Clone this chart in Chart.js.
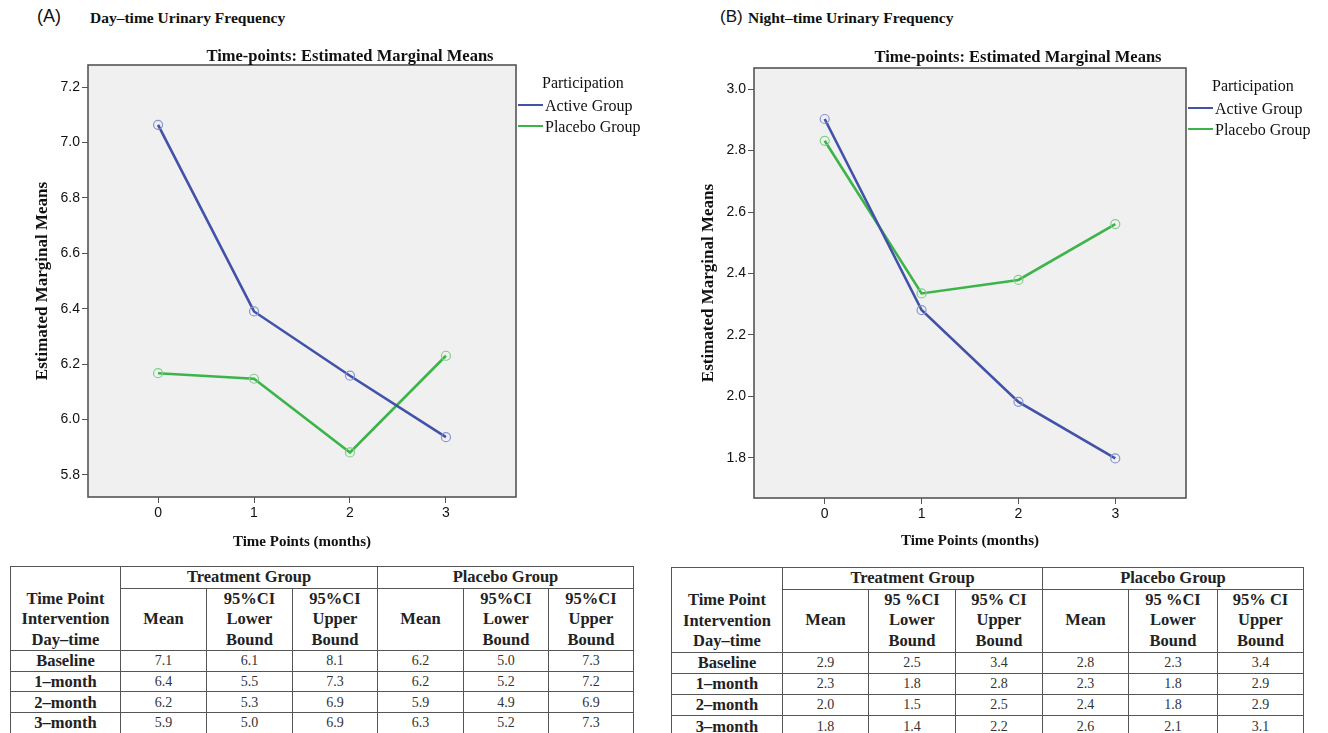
<!DOCTYPE html>
<html>
<head>
<meta charset="utf-8">
<script src="https://cdn.jsdelivr.net/npm/chart.js@4.4.0/dist/chart.umd.min.js"></script>
<style>
  body { margin: 0; background: #fff; width: 1328px; height: 733px; overflow: hidden; position: relative; font-family: "Liberation Serif", serif; }
  .panel { position: absolute; top: 0; width: 664px; height: 560px; }
  .heading { position: absolute; top: 6px; white-space: nowrap; color: #111; font-family: "Liberation Sans", sans-serif; font-size: 18px; }
  .name { position: absolute; top: 9px; white-space: nowrap; color: #111; font-weight: bold; font-size: 15.5px; }
  table { position: absolute; border-collapse: collapse; table-layout: fixed; color: #222; }
  td, th { border: 1.6px solid #555; padding: 0; text-align: center; vertical-align: middle; }
  th { font-weight: bold; font-size: 16.5px; line-height: 20.5px; }
  td { font-size: 14px; color: #333; height: 19px; line-height: 19px; }
  td.row { font-weight: bold; font-size: 16.5px; color: #222; }
  th.corner { vertical-align: bottom; }
</style>
</head>
<body>
<div class="heading" style="left:37px">(A)</div>
<div class="name" style="left:90px">Day–time Urinary Frequency</div>
<div class="heading" style="left:720px; font-size:17px; top:7px">(B)</div>
<div class="name" style="left:748px">Night–time Urinary Frequency</div>

<div class="panel" style="left:0"><canvas id="dayChart" width="664" height="560"></canvas></div>
<div class="panel" style="left:664px"><canvas id="nightChart" width="664" height="560"></canvas></div>

<table id="dayTable" style="left:10px; top:566px"></table>
<table id="nightTable" style="left:671px; top:567px"></table>

<script>
// x positions (months) and group names
const timePoints = [0, 1, 2, 3];
const groupLabels = ['Active Group', 'Placebo Group'];

// estimated marginal means plotted in each panel
const dayActive = [7.064, 6.390, 6.158, 5.936];
const dayPlacebo = [6.167, 6.147, 5.881, 6.230];
const nightActive = [2.903, 2.281, 1.982, 1.798];
const nightPlacebo = [2.832, 2.335, 2.379, 2.561];

// y tick labels
const dayTicks = [5.8, 6.0, 6.2, 6.4, 6.6, 6.8, 7.0, 7.2];
const nightTicks = [1.8, 2.0, 2.2, 2.4, 2.6, 2.8, 3.0];

// summary tables under the charts
const rowLabels = ['Baseline', '1–month', '2–month', '3–month'];
const dayTreatMean = [7.1, 6.4, 6.2, 5.9];
const dayTreatLower = [6.1, 5.5, 5.3, 5.0];
const dayTreatUpper = [8.1, 7.3, 6.9, 6.9];
const dayPlaceboMean = [6.2, 6.2, 5.9, 6.3];
const dayPlaceboLower = [5.0, 5.2, 4.9, 5.2];
const dayPlaceboUpper = [7.3, 7.2, 6.9, 7.3];
const nightTreatMean = [2.9, 2.3, 2.0, 1.8];
const nightTreatLower = [2.5, 1.8, 1.5, 1.4];
const nightTreatUpper = [3.4, 2.8, 2.5, 2.2];
const nightPlaceboMean = [2.8, 2.3, 2.4, 2.6];
const nightPlaceboLower = [2.3, 1.8, 1.8, 2.1];
const nightPlaceboUpper = [3.4, 2.9, 2.9, 3.1];

const lineColors = ['#4152a8', '#3cb44a'];
const markerColors = ['#8795d2', '#7fd088'];

function makeSeries(values, i) {
    return {
        label: groupLabels[i],
        data: values.map((v, k) => ({x: timePoints[k], y: v})),
        borderColor: lineColors[i],
        borderWidth: 2.6,
        tension: 0,
        pointRadius: 4.5,
        pointBorderWidth: 1.2,
        pointBorderColor: markerColors[i],
        pointBackgroundColor: 'rgba(0,0,0,0)'
    };
}

// grey plot box, frame, title above it and the SPSS-style legend at the right
const plotFrame = {
    id: 'plotFrame',
    beforeDraw(chart) {
        const {ctx, chartArea: a} = chart;
        ctx.save();
        ctx.fillStyle = '#f0f0f0';
        ctx.fillRect(a.left, a.top, a.right - a.left, a.bottom - a.top);
        ctx.restore();
    },
    afterDraw(chart, args, opts) {
        const {ctx, chartArea: a} = chart;
        ctx.save();
        ctx.strokeStyle = '#555';
        ctx.lineWidth = 1.6;
        ctx.strokeRect(a.left, a.top, a.right - a.left, a.bottom - a.top);

        // title is centred over plot + legend, so it sits right of the plot centre
        ctx.fillStyle = '#111';
        ctx.textBaseline = 'middle';
        ctx.textAlign = 'center';
        ctx.font = 'bold 16.5px "Liberation Serif"';
        ctx.fillText(opts.title, (a.left + a.right) / 2 + 48, opts.titleY);

        ctx.textAlign = 'left';
        ctx.font = '16px "Liberation Serif"';
        ctx.fillText('Participation', a.right + 26, a.top + 19);
        chart.data.datasets.forEach((ds, i) => {
            const y = a.top + 40 + i * 21;
            ctx.strokeStyle = ds.borderColor;
            ctx.lineWidth = 2;
            ctx.beginPath();
            ctx.moveTo(a.right + 2, y);
            ctx.lineTo(a.right + 27, y);
            ctx.stroke();
            ctx.fillText(ds.label, a.right + 29, y + 2);
        });
        ctx.restore();
    }
};

function makeChart(id, active, placebo, ticks, yMin, yMax, pad, yWidth, xHeight, titleY) {
    const tickFont = {family: 'Liberation Sans', size: 14};
    return new Chart(document.getElementById(id), {
        type: 'line',
        data: {datasets: [makeSeries(active, 0), makeSeries(placebo, 1)]},
        options: {
            responsive: false,
            animation: false,
            layout: {padding: pad},
            plugins: {
                legend: {display: false},
                tooltip: {enabled: false},
                plotFrame: {title: 'Time-points: Estimated Marginal Means', titleY: titleY}
            },
            scales: {
                x: {
                    type: 'linear',
                    min: -0.73,
                    max: 3.73,
                    afterBuildTicks: s => { s.ticks = timePoints.map(v => ({value: v})); },
                    afterFit: s => { s.height = xHeight; },
                    ticks: {font: tickFont, color: '#111', padding: 2, callback: v => String(v)},
                    grid: {drawOnChartArea: false, tickLength: 6, color: '#555'},
                    border: {display: false},
                    title: {
                        display: true, text: 'Time Points (months)', color: '#111', padding: 0,
                        font: {family: 'Liberation Serif', size: 15, weight: 'bold'}
                    }
                },
                y: {
                    min: yMin,
                    max: yMax,
                    afterBuildTicks: s => { s.ticks = ticks.map(v => ({value: v})); },
                    afterFit: s => { s.width = yWidth; },
                    ticks: {font: tickFont, color: '#111', padding: 2, callback: v => v.toFixed(1)},
                    grid: {drawOnChartArea: false, tickLength: 6, color: '#555'},
                    border: {display: false},
                    title: {
                        display: true, text: 'Estimated Marginal Means', color: '#111', padding: 0,
                        font: {family: 'Liberation Serif', size: 17, weight: 'bold'}
                    }
                }
            }
        },
        plugins: [plotFrame]
    });
}

makeChart('dayChart', dayActive, dayPlacebo, dayTicks, 5.72, 7.28,
    {left: 32, top: 65, right: 148, bottom: 9}, 56, 54, 57);
makeChart('nightChart', nightActive, nightPlacebo, nightTicks, 1.669, 3.069,
    {left: 34, top: 68, right: 142, bottom: 10}, 56, 52, 58);

function buildTable(id, widths, lowerHead, upperHead, cols, heights) {
    const t = document.getElementById(id);
    let html = '<colgroup>' + widths.map(w => `<col style="width:${w}px">`).join('') + '</colgroup>';
    html += `<tr style="height:${heights[0]}px"><th class="corner" rowspan="2">Time Point<br>Intervention<br>Day–time</th>` +
        '<th colspan="3">Treatment Group</th><th colspan="3">Placebo Group</th></tr>';
    const sub = `<th>Mean</th><th>${lowerHead}<br>Lower<br>Bound</th><th>${upperHead}<br>Upper<br>Bound</th>`;
    html += `<tr style="height:${heights[1]}px">${sub}${sub}</tr>`;
    rowLabels.forEach((lab, r) => {
        html += `<tr style="height:${heights[2]}px"><td class="row">${lab}</td>` +
            cols.map(c => `<td>${c[r].toFixed(1)}</td>`).join('') + '</tr>';
    });
    t.innerHTML = html;
}

buildTable('dayTable', [110, 86, 86, 85, 86, 85, 85], '95%CI', '95%CI',
    [dayTreatMean, dayTreatLower, dayTreatUpper, dayPlaceboMean, dayPlaceboLower, dayPlaceboUpper],
    [21, 62, 20.7]);
buildTable('nightTable', [111, 86, 87, 87, 86, 89, 86], '95 %CI', '95% CI',
    [nightTreatMean, nightTreatLower, nightTreatUpper, nightPlaceboMean, nightPlaceboLower, nightPlaceboUpper],
    [21, 63, 21.2]);
</script>
</body>
</html>
